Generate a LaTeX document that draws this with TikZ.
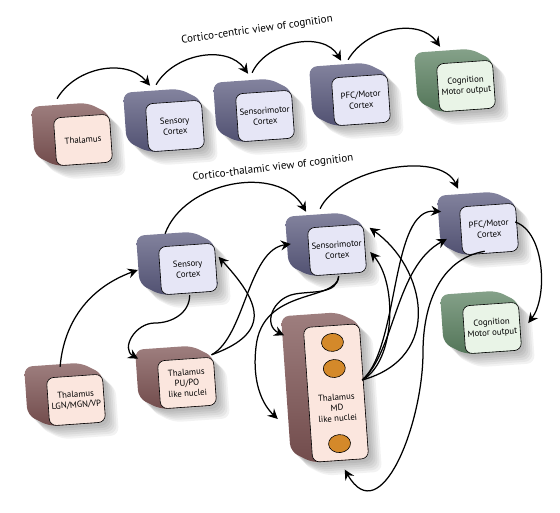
\documentclass[tikz,border=0pt]{standalone}
\usepackage{fontspec}
\setmainfont{PT Sans}
\usetikzlibrary{arrows.meta,calc,backgrounds,shapes.geometric}
\definecolor{cortexdark}{HTML}{5A5A7E}
\definecolor{cortexlight}{HTML}{E6E6F6}
\definecolor{thaldark}{HTML}{7E5454}
\definecolor{thallight}{HTML}{FBE6DE}
\definecolor{cogdark}{HTML}{5C8262}
\definecolor{coglight}{HTML}{E9F4E7}
\definecolor{nucleuscol}{HTML}{D4892A}
\newcommand\boxhull[1]{($(#1.south west)+(-22,11)$) -- ($(#1.north west)+(-22,11)$) -- ($(#1.north east)+(-22,11)$) -- (#1.north east) -- (#1.south east) -- (#1.south west) -- cycle}
\tikzset{
  face/.style={draw, line width=0.6pt, rounded corners=7pt, minimum width=56pt, minimum height=48pt,
    rotate=4, align=center, inner xsep=0pt, inner ysep=1pt, font=\fontsize{8.8}{10.5}\selectfont},
  cortex/.style={face, fill=cortexlight},
  thal/.style={face, fill=thallight},
  cog/.style={face, fill=coglight},
  nucleus/.style={ellipse, draw, line width=0.6pt, fill=nucleuscol, minimum width=22pt, minimum height=18pt, inner sep=0pt, rotate=4},
  heading/.style={font=\fontsize{11}{13}\selectfont},
  link/.style={line width=1.25pt, -{Stealth[length=10pt,width=10pt,inset=3.5pt]}}
}
\begin{document}
\begin{tikzpicture}[x=1pt,y=1pt]
\useasboundingbox (0,0) rectangle (560,512);

% cortico-centric row
\node[heading, rotate=8] (title1) at (257,482) {Cortico-centric view of cognition};
\node[thal] (t1) at (83,372) {Thalamus};
\node[cortex] (s1) at (175,386) {Sensory\\Cortex};
\node[cortex] (m1) at (265,396) {Sensorimotor\\Cortex};
\node[cortex] (p1) at (361,412) {PFC/Motor\\Cortex};
\node[cog] (c1) at (466,426) {Cognition\\Motor output};

% cortico-thalamic network
\node[heading, rotate=7] (title2) at (273,344) {Cortico-thalamic view of cognition};
\node[cortex] (s2) at (188,243) {Sensory\\Cortex};
\node[cortex] (m2) at (337,262) {Sensorimotor\\Cortex};
\node[cortex] (p2) at (489,283) {PFC/Motor\\Cortex};
\node[cog] (c2) at (492,184) {Cognition\\Motor output};
\node[thal] (l2) at (76,112) {Thalamus\\LGN/MGN/VP};
\node[thal] (u2) at (187,129) {Thalamus\\PU/PO\\like nuclei};
\node[thal, minimum height=135pt] (md) at (336,119) {};
\node[face, draw=none, fill=none] (mdlabel) at ($(md.north)!0.61!(md.south)$) {Thalamus\\MD\\like nuclei};
\foreach \f/\k in {0.126/a,0.319/b,0.874/c}
{
  \node[nucleus] (nuc\k) at ($(md.north)!\f!(md.south)$) {};
}

\begin{scope}[on background layer]
\foreach \n/\c in {t1/thaldark,s1/cortexdark,m1/cortexdark,p1/cortexdark,c1/cogdark,
  s2/cortexdark,m2/cortexdark,p2/cortexdark,c2/cogdark,l2/thaldark,u2/thaldark,md/thaldark}
{
  \foreach \s in {3,5,...,13}
    \fill[black, opacity=0.05, rounded corners=8pt, transform canvas={shift={(\s,-\s)}}] \boxhull{\n};
  \path[top color=\c!75!white, bottom color=\c!90!black, rounded corners=8pt] \boxhull{\n};
}
\end{scope}

% top row arrows
\draw[link] ([shift={(4,19)}]t1.north west) to[out=60,in=130] ([shift={(5,18)}]s1.north west);
\draw[link] ([shift={(11,19)}]s1.north west) to[out=60,in=125] ([shift={(13,20)}]m1.north west);
\draw[link] ([shift={(17,21)}]m1.north west) to[out=65,in=120] ([shift={(10,17)}]p1.north west);
\draw[link] ([shift={(17,18)}]p1.north west) to[out=60,in=125] ([shift={(4,17)}]c1.north west);

% network arrows
\draw[link] ([shift={(14,11)}]l2.north west) to[out=85,in=200] ([shift={(-22,1)}]s2.west);
\draw[link] ([shift={(7,13)}]s2.north west) to[out=70,in=120] ([shift={(-1,16)}]m2.north west);
\draw[link] ([shift={(13,19)}]m2.north west) to[out=65,in=115,looseness=0.8] ([shift={(-1,18)}]p2.north west);
\draw[link] ([shift={(0,-2)}]s2.south) to[out=-90,in=0] (155,189) to[out=180,in=150,looseness=1.3] ([shift={(-19,2)}]u2.north west);
\draw[link] ([shift={(-2,2)}]u2.north east) .. controls (275,180) and (258,212) .. ([shift={(4,-14)}]s2.north east);
\draw[link] ([shift={(-2,2)}]u2.north east) .. controls (245,175) and (248,262) .. ([shift={(-18,8)}]m2.west);
\draw[link] ([shift={(0,-2)}]m2.south) to[out=-95,in=10] (295,218) to[out=190,in=155,looseness=1.4] ([shift={(-19,-8)}]md.north west);
\draw[link] ([shift={(0,-2)}]m2.south) .. controls (337,210) and (262,225) .. (256,165) .. controls (252,130) and (262,108) .. ([shift={(-30,-24)}]md.west);
\draw[link] ([shift={(-2,11)}]md.east) .. controls (445,155) and (425,245) .. ([shift={(6,-4)}]m2.north east);
\draw[link] ([shift={(-2,11)}]md.east) .. controls (395,150) and (398,228) .. ([shift={(5,-4)}]m2.east);
\draw[link] ([shift={(-2,11)}]md.east) .. controls (400,165) and (390,305) .. ([shift={(-18,-5)}]p2.north west);
\draw[link] ([shift={(-2,11)}]md.east) .. controls (395,160) and (395,245) .. ([shift={(-14,-8)}]p2.west);
\draw[link] ([shift={(-2,5)}]p2.east) .. controls (545,280) and (548,215) .. ([shift={(8,3)}]c2.east);
\draw[link] ([shift={(-6,2)}]p2.south) to[out=190,in=90] (423,160) to[out=-90,in=-60,looseness=1.3] ([shift={(4,-9)}]md.south);
\end{tikzpicture}
\end{document}
